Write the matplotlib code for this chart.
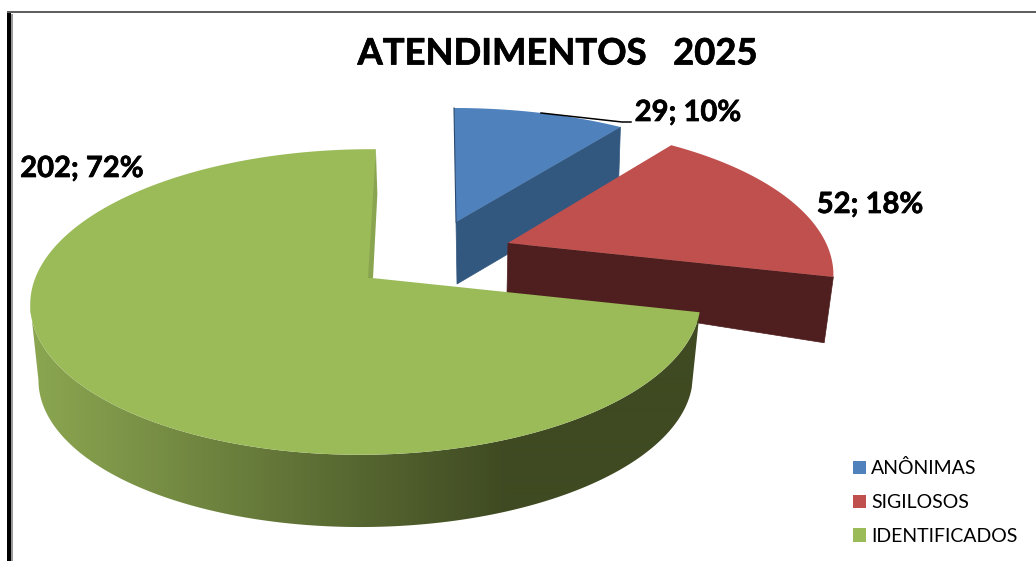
import numpy as np
import matplotlib
matplotlib.use("Agg")
import matplotlib.pyplot as plt
import matplotlib.patheffects as pe
from matplotlib.patches import Patch, Polygon, Rectangle
from matplotlib.colors import to_rgb

plt.rcParams['font.family'] = ['Lato', 'DejaVu Sans']

# --- data ---
categories = ["ANÔNIMAS", "SIGILOSOS", "IDENTIFICADOS"]
values = [29, 52, 202]
percent_labels = [10, 18, 72]
title = "ATENDIMENTOS   2025"

# --- styles ---
top_colors = ["#4f81bd", "#c0504d", "#9bbb59"]
side_colors = ["#33587f", "#4f1f1f", "#3f4a22"]
grad_left = "#8aa550"
# per-slice projection: apex x, y, R, Ry, k, shear, m
top_geo = [(456, 222, 332, 142.5, .25, .0175, 0),
           (508, 243, 318, 143, .212, 0.0, 0),
           (372, 278, 331, 149, .157, -.03, .017)]
low_geo = [(457, 284, 326, 142.5, .25, .0175, 0),
           (507, 293, 310, 210, .212, 0.0, 0),
           (372, 354.4, 323, 145.5, .157, -.03, .017)]

W, H = 1036, 561
fig = plt.figure(figsize=(W / 100, H / 100), dpi=100, facecolor="white")
ax = fig.add_axes([0, 0, 1, 1])
ax.set_xlim(0, W)
ax.set_ylim(H, 0)
ax.axis("off")

# slice angles from the values (clockwise from top)
fracs = np.array(values) / sum(values)
edges = np.concatenate([[0], np.cumsum(fracs)]) * 2 * np.pi


def rim(geo, theta):
    cx, cy, R, Ry, k, sh, m = geo
    theta = np.asarray(theta)
    w = 1 + k * np.cos(theta) + m * np.sin(theta)
    dy = -Ry * np.cos(theta) / w
    return cx + R * np.sin(theta) / w + sh * dy, cy + dy


def xy(x, y):
    return np.column_stack([np.atleast_1d(x), np.atleast_1d(y)])


# blue: cut face then top
t = edges[1]
ax.add_patch(Polygon(np.vstack([top_geo[0][:2], xy(*rim(top_geo[0], t)),
                                xy(*rim(low_geo[0], t)), low_geo[0][:2]]),
                     fc=side_colors[0], ec=side_colors[0], lw=.5, zorder=1))
ts = np.linspace(edges[0], edges[1], 60)
ax.add_patch(Polygon(np.vstack([top_geo[0][:2], xy(*rim(top_geo[0], ts))]),
                     fc=top_colors[0], ec="none", zorder=2))
ax.plot([top_geo[0][0], rim(top_geo[0], 0.0)[0]], [top_geo[0][1], rim(top_geo[0], 0.0)[1]],
        color="#2c4a6e", lw=.8, zorder=2)
ax.plot([541, 622, 631], [113, 122, 122], color="black", lw=1.1, zorder=3)

# red: cut face then top
t = edges[2]
ax.add_patch(Polygon(np.vstack([top_geo[1][:2], xy(*rim(top_geo[1], t)),
                                xy(*rim(low_geo[1], t)), low_geo[1][:2]]),
                     fc=side_colors[1], ec=side_colors[1], lw=.5, zorder=4))
ts = np.linspace(edges[1], edges[2], 80)
ax.add_patch(Polygon(np.vstack([top_geo[1][:2], xy(*rim(top_geo[1], ts))]),
                     fc=top_colors[1], ec="none", zorder=5))

# green: shaded outer wall, up to the silhouette (leftmost rim point)
ts = np.linspace(edges[2], np.deg2rad(300), 600)
xt, yt = rim(top_geo[2], ts)
ts = ts[:np.argmin(xt) + 1]
xt, yt = rim(top_geo[2], ts)
xl, yl = rim(low_geo[2], ts)
wall = Polygon(np.vstack([xy(xt, yt), xy(xl, yl)[::-1]]), fc="none", ec="none", transform=ax.transData)
ax.add_patch(wall)
c0, c1 = np.array(to_rgb(grad_left)), np.array(to_rgb(side_colors[2]))
f = np.clip((np.arange(W) + .5 - 40) / (505 - 40), 0, 1)[None, :, None]
im = ax.imshow(c0[None, None, :] + (c1 - c0)[None, None, :] * f, extent=(0, W, H, 0), aspect="auto",
               interpolation="bilinear", zorder=6)
im.set_clip_path(wall)
ax.set_xlim(0, W)
ax.set_ylim(H, 0)

ts = np.linspace(edges[2], edges[3], 300)
ax.add_patch(Polygon(np.vstack([top_geo[2][:2], xy(*rim(top_geo[2], ts))]),
                     fc=top_colors[2], ec="none", zorder=7))
# thin cut face at the top of the green slice
ax0, ay0 = top_geo[2][:2]
gx, gy = rim(top_geo[2], edges[3])
ax.add_patch(Polygon([(ax0 - 4, ay0), (gx, gy), (gx + 1.5, gy + 45), (ax0 + 1, ay0)],
                     fc=grad_left, ec="none", zorder=8))

# frame
ax.add_patch(Rectangle((7.3, 11), 3.4, H, fc="black", ec="none", zorder=10))
ax.add_patch(Rectangle((11, 14), 2, H, fc="#9a9a9a", ec="none", zorder=10))
ax.add_patch(Rectangle((7.3, 11), W, 2, fc="#606060", ec="none", zorder=10))

# texts
heavier = [pe.withStroke(linewidth=.5, foreground="black")]
ax.text(557, 54, title, ha="center", va="center", fontsize=26.2, fontweight="bold", color="black", zorder=11,
        path_effects=heavier)
label_pos = [(688, 113), (870, 205), (82, 169)]
for (x, y), v, p in zip(label_pos, values, percent_labels):
    ax.text(x, y, f"{v}; {p}%", ha="center", va="center", fontsize=21, fontweight="bold", color="black", zorder=11,
            path_effects=heavier)

handles = [Patch(fc=c, ec="none", label=n) for c, n in zip(top_colors, categories)]
ax.legend(handles=handles, loc="upper left", bbox_to_anchor=(847 / W, 1 - 453.5 / H),
          bbox_transform=fig.transFigure, frameon=False, fontsize=14.05, handlelength=.665, handleheight=.665,
          handletextpad=.28, labelspacing=.86, borderpad=.3, borderaxespad=0, labelcolor="black")

fig.savefig("out.png", dpi=100, facecolor="white")
